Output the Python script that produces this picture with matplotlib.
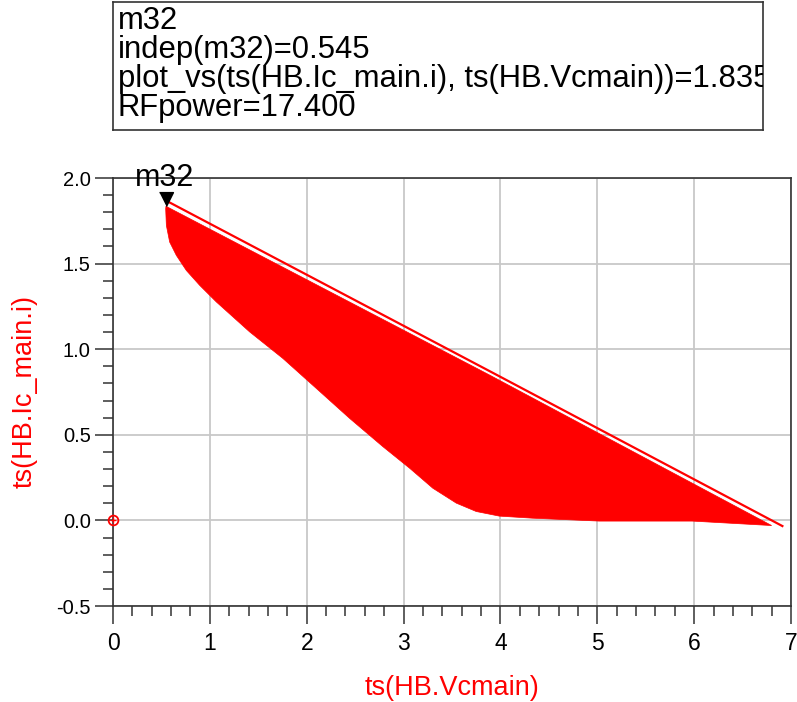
import matplotlib
matplotlib.use('Agg')
import matplotlib.pyplot as plt
from matplotlib.ticker import MultipleLocator, FormatStrFormatter

# Datos (ts(HB.Vcmain) en x, ts(HB.Ic_main.i) en y)
vc_top = [0.547, 3.888, 6.800]
ic_top = [1.835, 0.849, -0.030]

vc_bottom = [0.547, 0.544, 0.551, 0.585, 0.654, 0.757, 0.895, 1.067, 1.411, 1.754,
             2.099, 2.443, 2.786, 3.062, 3.302, 3.544, 3.750, 3.989, 4.330,
             5.020, 5.980, 6.800]
ic_bottom = [1.835, 1.820, 1.723, 1.626, 1.548, 1.460, 1.373, 1.276, 1.101, 0.946,
             0.771, 0.596, 0.431, 0.305, 0.188, 0.101, 0.052, 0.025, 0.013,
             -0.004, -0.004, -0.030]

vc_outer = [0.568, 3.888, 6.911]
ic_outer = [1.862, 0.872, -0.033]

marker_name = "m32"
marker_x = 0.545
marker_y = 1.835
marker_lines = ["m32",
                "indep(m32)=0.545",
                "plot_vs(ts(HB.Ic_main.i), ts(HB.Vcmain))=1.835",
                "RFpower=17.400"]

origin_x = [0]
origin_y = [0]

ROJO = '#FF0000'
GRIS_EJE = '#333333'
plt.rcParams['font.family'] = ['Liberation Sans', 'DejaVu Sans']

W, H = 797, 702
fig = plt.figure(figsize=(W / 100, H / 100), dpi=100)

# --- Eje principal ---
ax = fig.add_axes([113 / W, 1 - 606 / H, 678 / W, 428 / H])
poly_x = vc_top + vc_bottom[::-1]
poly_y = ic_top + ic_bottom[::-1]
ax.fill(poly_x, poly_y, color=ROJO, lw=0.5, zorder=3)
ax.plot(vc_outer, ic_outer, color=ROJO, lw=1.6, zorder=3)

# Marcador m32: triangulo con la punta sobre el punto
tri = [(-0.5, 1.0), (0.5, 1.0), (0.0, 0.0)]
ax.plot([marker_x], [marker_y], marker=tri, ms=20, color='black', ls='none',
        zorder=5, clip_on=False)
ax.annotate(marker_name, (marker_x, marker_y), xytext=(-1, 14.5), textcoords='offset points',
            ha='center', va='baseline', fontsize=22, zorder=6, annotation_clip=False)

# Circulo en el origen
ax.plot(origin_x, origin_y, marker='o', ms=7, mfc='none', mec=ROJO, mew=1.3,
        ls='none', zorder=5, clip_on=False)
ax.plot(origin_x, origin_y, marker='+', ms=5, mec=ROJO, mew=1.0,
        ls='none', zorder=5, clip_on=False)

ax.set_xlim(0, 7)
ax.set_ylim(-0.5, 2.0)
ax.xaxis.set_major_locator(MultipleLocator(1))
ax.xaxis.set_minor_locator(MultipleLocator(0.2))
ax.yaxis.set_major_locator(MultipleLocator(0.5))
ax.yaxis.set_minor_locator(MultipleLocator(0.1))
ax.yaxis.set_major_formatter(FormatStrFormatter('%.1f'))
ax.xaxis.set_major_formatter(FormatStrFormatter('%d'))

ax.grid(True, which='major', color='#C8C8C8', lw=1.3, zorder=0)
ax.set_axisbelow(True)
for s in ax.spines.values():
    s.set_color(GRIS_EJE)
    s.set_linewidth(1.2)
ax.tick_params(which='major', direction='out', length=13, width=1.1, color=GRIS_EJE,
               labelsize=14.5, pad=3)
ax.tick_params(which='minor', direction='out', length=7, width=1.1, color=GRIS_EJE)
ax.tick_params(axis='x', which='major', labelsize=16.5, pad=6)

ax.set_xlabel("ts(HB.Vcmain)", color=ROJO, fontsize=19.5)
ax.xaxis.set_label_coords(0.5, (606 - 688) / 428)
ax.xaxis.label.set_va('center')
ax.set_ylabel("ts(HB.Ic_main.i)", color=ROJO, fontsize=19.5)
ax.yaxis.set_label_coords((25 - 113) / 678, 0.5)
ax.yaxis.label.set_va('center')

# --- Caja de texto del marcador ---
box = fig.add_axes([113 / W, 1 - 130 / H, 650 / W, 128 / H])
box.set_xticks([])
box.set_yticks([])
for s in box.spines.values():
    s.set_color(GRIS_EJE)
    s.set_linewidth(1.2)
base_px = [29, 58, 87, 116]
for txt, by in zip(marker_lines, base_px):
    box.text(5 / 650, 1 - (by - 2) / 128, txt, transform=box.transAxes, fontsize=22.3,
             va='baseline', ha='left', clip_on=True)

fig.savefig('out.png', dpi=100)
